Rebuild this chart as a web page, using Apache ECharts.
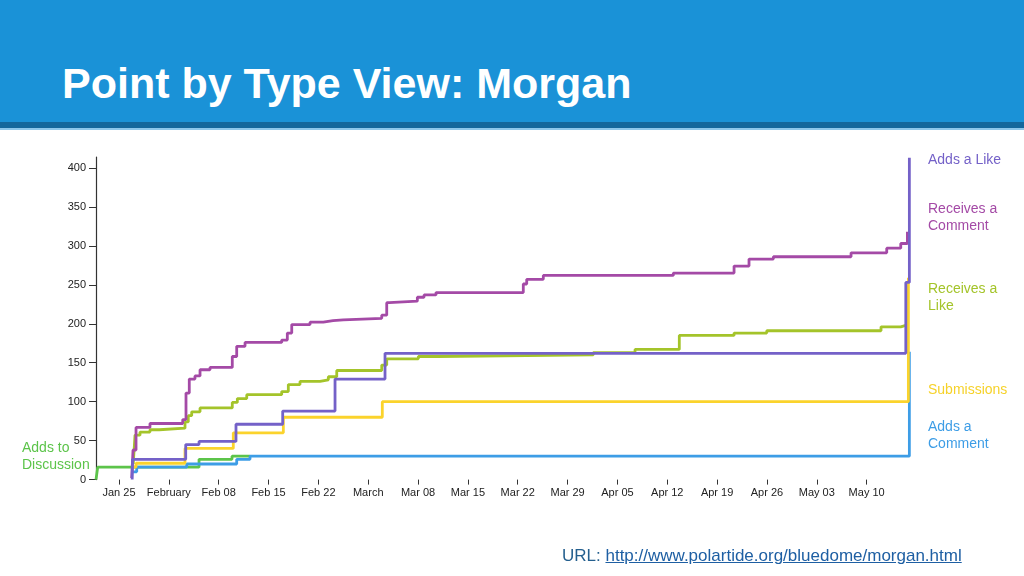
<!DOCTYPE html>
<html>
<head>
<meta charset="utf-8">
<script src="https://cdn.jsdelivr.net/npm/echarts@6/dist/echarts.min.js"></script>
<style>
  html, body { margin: 0; padding: 0; width: 1024px; height: 576px; overflow: hidden; background: #ffffff; font-family: "Liberation Sans", Arial, Helvetica, sans-serif; }
  #banner { position: absolute; left: 0; top: 0; width: 1024px; height: 122px; background: #1a92d7; }
  #strip { position: absolute; left: 0; top: 122px; width: 1024px; height: 6px; background: #13679c; }
  #strip2 { position: absolute; left: 0; top: 128px; width: 1024px; height: 2px; background: #8cc6ea; }
  #title { position: absolute; left: 62px; top: 58px; color: #ffffff; font-weight: bold; font-size: 43px; line-height: 50px; white-space: nowrap; }
  #chart { position: absolute; left: 0; top: 0; width: 1024px; height: 576px; }
  #footer { position: absolute; left: 562px; top: 545px; font-size: 17px; line-height: 22px; color: #245f8e; white-space: nowrap; }
  #footer a { color: #1e5fa3; text-decoration: underline; }
</style>
</head>
<body>
<div id="banner"></div>
<div id="strip"></div>
<div id="strip2"></div>
<div id="title">Point by Type View: Morgan</div>
<div id="chart"></div>
<div id="footer">URL: <a href="http://www.polartide.org/bluedome/morgan.html">http://www.polartide.org/bluedome/morgan.html</a></div>
<script>
// x values are days since Jan 25 (2015); each point = [day when the count changes, new cumulative count]
const tickDays   = [0, 7, 14, 21, 28, 35, 42, 49, 56, 63, 70, 77, 84, 91, 98, 105];
const tickLabels = ['Jan 25', 'February', 'Feb 08', 'Feb 15', 'Feb 22', 'March', 'Mar 08', 'Mar 15', 'Mar 22', 'Mar 29', 'Apr 05', 'Apr 12', 'Apr 19', 'Apr 26', 'May 03', 'May 10'];
const yTicks     = [0, 50, 100, 150, 200, 250, 300, 350, 400];

const addsToDiscussion = [[-3.23, 0], [-2.99, 16], [11.24, 26], [15.87, 30], [18.4, 30]];

const addsAComment = [[1.92, 10], [2.49, 16], [9.51, 20], [16.53, 26], [18.4, 30], [111.0, 164]];

const submissions = [[1.78, 16], [2.39, 21], [9.27, 40], [16.05, 60], [23.08, 80], [36.98, 100], [110.86, 259]];

const receivesALike = [[2.0, 20], [2.25, 57], [2.95, 61], [4.35, 64], [5.66, 66], [9.27, 74], [9.73, 82],
  [10.21, 87], [11.38, 92], [15.91, 99], [16.62, 104], [17.94, 109], [22.85, 113], [23.78, 122],
  [25.42, 126], [28.23, 128], [29.4, 132], [30.58, 140], [36.9, 147], [37.6, 155], [42.04, 158],
  [44.62, 160], [66.6, 163], [72.47, 167], [78.69, 185], [86.38, 188], [90.97, 191], [107.02, 196],
  [109.79, 198], [110.5, 198]];

const receivesAComment = [[1.78, 2], [1.97, 38], [2.39, 67], [4.35, 72], [8.95, 77], [9.41, 111],
  [9.87, 129], [10.67, 133], [11.38, 141], [12.78, 144], [15.91, 158], [16.53, 171], [17.7, 176],
  [22.85, 179], [23.64, 188], [24.26, 199], [26.83, 202], [28.69, 204], [30.06, 205], [31.5, 207],
  [36.9, 211], [37.6, 227], [37.96, 229], [41.9, 234], [42.84, 237], [44.52, 240], [56.78, 251],
  [57.26, 257], [59.59, 262], [77.85, 265], [86.38, 274], [88.48, 283], [91.9, 286], [102.81, 291],
  [107.82, 297], [109.79, 303], [110.72, 318]];

const addsALike = [[1.85, 0], [1.9, 26], [9.37, 45], [11.24, 49], [16.43, 71], [22.99, 88],
  [30.34, 129], [37.36, 162], [110.5, 253], [111.0, 413]];

const seriesNames  = ['Adds to Discussion', 'Adds a Comment', 'Submissions', 'Receives a Like', 'Receives a Comment', 'Adds a Like'];
const seriesData   = [addsToDiscussion, addsAComment, submissions, receivesALike, receivesAComment, addsALike];
const seriesColors = ['#5cc44a', '#3d9de6', '#fbd32c', '#a4c42a', '#a44aa6', '#7461c8'];

const chart = echarts.init(document.getElementById('chart'), null, { renderer: 'canvas' });

const labelStyle = (text, color, x, y) => ({
  type: 'text', left: x, top: y, z: 10,
  style: { text: text, fill: color, font: '14px "Liberation Sans", Arial, sans-serif', lineHeight: 17 }
});

chart.setOption({
  animation: false,
  backgroundColor: 'transparent',
  grid: { left: 96, right: 1024 - 912, top: 157, bottom: 96.4, containLabel: false },
  xAxis: {
    type: 'value',
    min: -3.23,
    max: 111.37,
    axisLine: { show: false, onZero: false },
    splitLine: { show: false },
    axisTick: { show: true, length: 5, customValues: tickDays, lineStyle: { color: '#333', width: 1 } },
    axisLabel: {
      customValues: tickDays, margin: 8, color: '#222', fontSize: 11,
      fontFamily: '"Liberation Sans", Arial, sans-serif',
      formatter: v => { const i = tickDays.indexOf(v); return i >= 0 ? tickLabels[i] : ''; }
    }
  },
  yAxis: {
    type: 'value',
    min: 0,
    max: 414,
    axisLine: { show: true, onZero: false, lineStyle: { color: '#333', width: 1.2 } },
    splitLine: { show: false },
    axisTick: { show: true, length: 7, customValues: yTicks, lineStyle: { color: '#333', width: 1 } },
    axisLabel: {
      customValues: yTicks, margin: 10, color: '#222', fontSize: 11,
      fontFamily: '"Liberation Sans", Arial, sans-serif'
    }
  },
  series: seriesNames.map((name, i) => ({
    name: name,
    type: 'line',
    step: 'end',
    data: seriesData[i],
    showSymbol: false,
    symbol: 'none',
    lineStyle: { color: seriesColors[i], width: 2.8 },
    itemStyle: { color: seriesColors[i] },
    z: 2 + i
  })),
  graphic: [
    labelStyle('Adds a Like', '#7461c8', 928, 152),
    labelStyle('Receives a\nComment', '#a44aa6', 928, 201),
    labelStyle('Receives a\nLike', '#a4c42a', 928, 281),
    labelStyle('Submissions', '#f6d22a', 928, 382),
    labelStyle('Adds a\nComment', '#3d9de6', 928, 419),
    labelStyle('Adds to\nDiscussion', '#5cc44a', 22, 440)
  ]
});
</script>
</body>
</html>
